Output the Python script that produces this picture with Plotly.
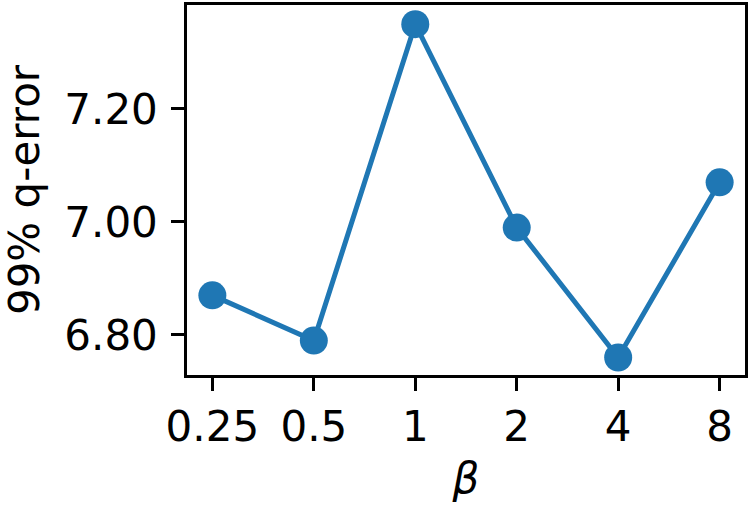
import plotly.graph_objects as go

beta_labels = ["0.25", "0.5", "1", "2", "4", "8"]
q_error_99 = [6.87, 6.79, 7.35, 6.99, 6.76, 7.07]
y_ticks = [6.80, 7.00, 7.20]
y_tick_text = ["6.80", "7.00", "7.20"]

xpos = list(range(len(beta_labels)))

fig = go.Figure()
fig.add_trace(go.Scatter(
    x=xpos, y=q_error_99, mode="lines+markers",
    line=dict(color="#1f77b4", width=5),
    marker=dict(color="#1f77b4", size=28),
    showlegend=False, cliponaxis=False,
))

font = dict(family="DejaVu Sans", size=42, color="black")
fig.update_layout(
    width=750, height=515,
    margin=dict(l=187, r=5, t=5, b=140, autoexpand=False),
    paper_bgcolor="white", plot_bgcolor="white",
    font=font,
)
fig.update_xaxes(
    range=[-0.25, 5.25], tickvals=xpos, ticktext=beta_labels,
    showline=True, linecolor="black", linewidth=2.5, mirror=True,
    ticks="outside", ticklen=13, tickwidth=2.5, tickcolor="black",
    showgrid=False, zeroline=False, tickfont=font, automargin=False,
    title=dict(text="<i>β</i>", font=font, standoff=14),
)
fig.update_yaxes(
    range=[6.729, 7.384], tickvals=y_ticks, ticktext=y_tick_text,
    showline=True, linecolor="black", linewidth=2.5, mirror=True,
    ticks="outside", ticklen=13, tickwidth=2.5, tickcolor="black",
    showgrid=False, zeroline=False, tickfont=font, automargin=False,
    ticklabelstandoff=5,
    title=dict(text="99% q-error", font=font, standoff=14),
)
fig.write_html("out.html", config={"displayModeBar": False},
               post_script="document.body.style.margin='0';")
